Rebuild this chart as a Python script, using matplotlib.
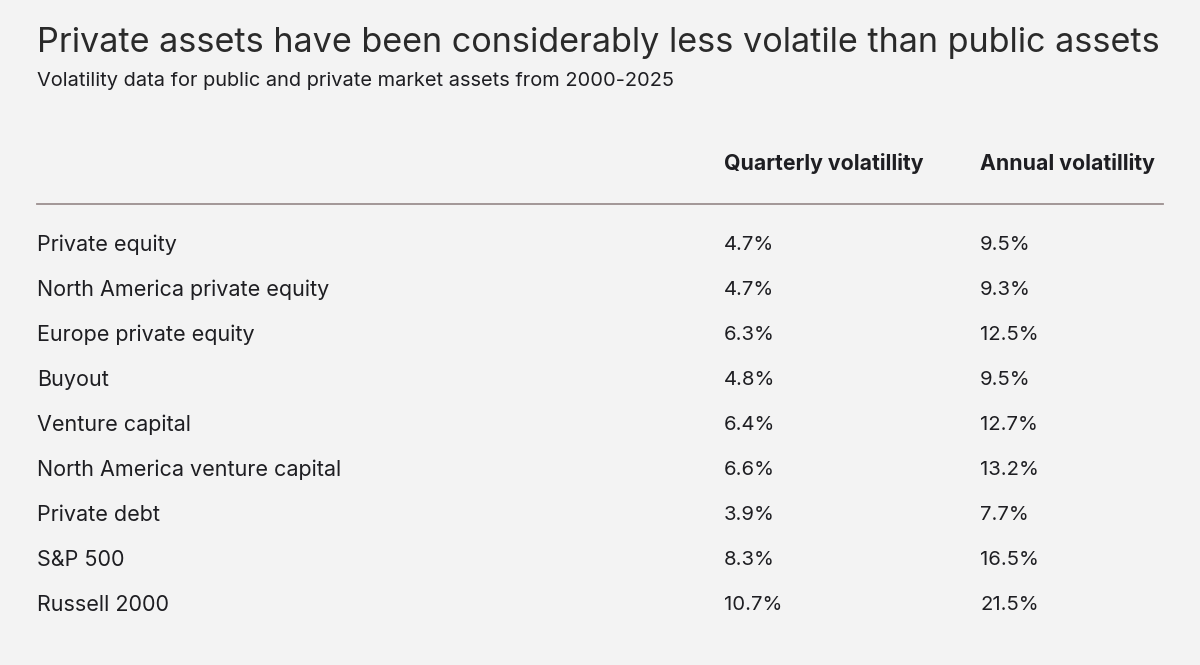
import matplotlib
matplotlib.use('Agg')
import matplotlib.pyplot as plt

title = 'Private assets have been considerably less volatile than public assets'
subtitle = 'Volatility data for public and private market assets from 2000-2025'
columns = ['Quarterly volatillity', 'Annual volatillity']
assets = ['Private equity', 'North America private equity', 'Europe private equity',
          'Buyout', 'Venture capital', 'North America venture capital',
          'Private debt', 'S&P 500', 'Russell 2000']
quarterly = [4.7, 4.7, 6.3, 4.8, 6.4, 6.6, 3.9, 8.3, 10.7]
annual = [9.5, 9.3, 12.5, 9.5, 12.7, 13.2, 7.7, 16.5, 21.5]

W, H = 1200, 665
bg = '#f3f3f3'
ink = '#1e1e22'
plt.rcParams['font.family'] = ['Inter', 'DejaVu Sans']

fig = plt.figure(figsize=(W / 100, H / 100), dpi=100, facecolor=bg)
ax = fig.add_axes([0, 0, 1, 1])
ax.set_xlim(0, W)
ax.set_ylim(H, 0)
ax.axis('off')
ax.set_facecolor(bg)

ax.text(37, 43, title, fontsize=24.6, color='#2a2a2a', va='center', ha='left')
ax.text(37, 81, subtitle, fontsize=14.4, color=ink, va='center', ha='left')

col_x = [724, 980]
for x, c in zip(col_x, columns):
    ax.text(x, 164, c, fontsize=15.3, fontweight='bold', color=ink, va='center', ha='left')

ax.plot([37, 1163], [204, 204], color='#9b8f8f', lw=1.3)

for i, name in enumerate(assets):
    y = 245 + i * 45
    ax.text(37, y, name, fontsize=15.5, color=ink, va='center', ha='left')
    ax.text(col_x[0], y, f'{quarterly[i]}%', fontsize=14.6, color=ink, va='center', ha='left')
    ax.text(col_x[1], y, f'{annual[i]}%', fontsize=14.6, color=ink, va='center', ha='left')

fig.savefig('out.png', dpi=100, facecolor=bg)
